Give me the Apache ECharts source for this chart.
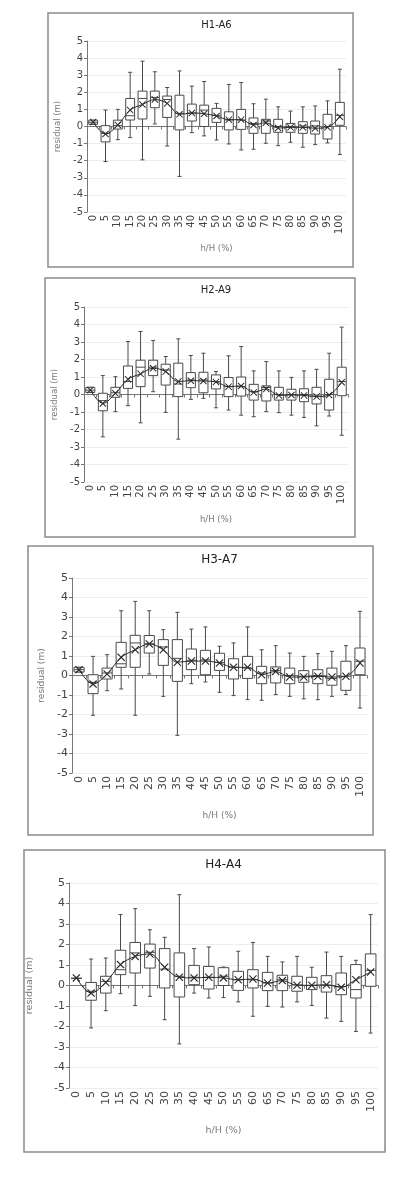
<!DOCTYPE html>
<html>
<head>
<meta charset="utf-8">
<script src="https://cdn.jsdelivr.net/npm/echarts@6/dist/echarts.min.js"></script>
<style>
html,body{margin:0;padding:0;background:#fff;}
#chart{width:396px;height:1178px;}
</style>
</head>
<body>
<div id="chart"></div>
<script>
// ---- data ----
const categories = ['0','5','10','15','20','25','30','35','40','45','50','55','60','65','70','75','80','85','90','95','100'];
const titles = ['H1-A6','H2-A9','H3-A7','H4-A4'];
const yTicks = [-5,-4,-3,-2,-1,0,1,2,3,4,5];

// [min, Q1, median, Q3, max]
const h1Box = [
  [0.13,0.13,0.25,0.37,0.37],[-2.05,-0.9,-0.4,0.05,0.96],[-0.77,-0.15,0.05,0.37,1.0],[-0.65,0.38,0.63,1.64,3.17],
  [-1.95,0.44,1.64,2.07,3.82],[0.15,1.1,1.7,2.07,3.2],[-1.14,0.53,1.58,1.78,2.28],[-2.92,-0.2,0.77,1.83,3.25],
  [-0.36,0.32,0.79,1.31,2.36],[-0.55,0.0,0.96,1.25,2.63],[-0.79,0.24,0.65,1.06,1.35],[-1.02,-0.2,0.38,0.86,2.46],
  [-1.37,-0.17,0.38,1.0,2.57],[-1.33,-0.4,0.18,0.5,1.33],[-0.98,-0.4,0.32,0.42,1.6],[-1.12,-0.34,0.0,0.42,1.15],
  [-0.92,-0.34,0.0,0.18,0.9],[-1.21,-0.4,0.03,0.28,1.15],[-1.06,-0.44,0.03,0.32,1.2],[-0.96,-0.73,0.0,0.71,1.5],
  [-1.64,0.07,0.65,1.41,3.35]
];
const h1Mean = [0.26,-0.44,0.09,0.96,1.29,1.58,1.35,0.71,0.79,0.75,0.61,0.4,0.4,0.09,0.22,-0.09,-0.05,-0.05,-0.1,-0.05,0.57];

const h2Box = [
  [0.12,0.12,0.25,0.41,0.41],[-2.42,-0.93,-0.35,0.07,1.08],[-0.98,-0.16,0.1,0.41,1.02],[-0.64,0.35,0.74,1.63,3.03],
  [-1.62,0.45,1.56,1.96,3.6],[0.16,1.08,1.56,1.96,3.09],[-1.02,0.54,1.4,1.73,2.17],[-2.55,-0.12,0.6,1.79,3.18],
  [-0.28,0.39,0.83,1.25,2.23],[-0.22,0.1,0.83,1.27,2.36],[-0.76,0.32,0.74,1.12,1.31],[-0.89,-0.12,0.45,0.97,2.21],
  [-1.18,-0.09,0.45,1.0,2.74],[-1.27,-0.32,0.16,0.58,1.35],[-0.98,-0.37,0.4,0.49,1.88],[-1.04,-0.32,0.0,0.41,1.35],
  [-1.18,-0.32,0.0,0.3,0.98],[-1.31,-0.41,0.0,0.33,1.35],[-1.79,-0.54,-0.03,0.41,1.44],[-1.23,-0.89,0.0,0.87,2.36],
  [-2.33,-0.07,0.74,1.56,3.85]
];
const h2Mean = [0.26,-0.51,0.07,0.87,1.18,1.5,1.31,0.74,0.79,0.77,0.72,0.45,0.49,0.12,0.32,-0.05,-0.03,-0.05,-0.12,-0.03,0.7];

const h3Box = [
  [0.18,0.18,0.3,0.42,0.42],[-2.04,-0.93,-0.35,0.04,0.98],[-0.78,-0.18,0.13,0.38,1.07],[-0.69,0.42,0.6,1.7,3.32],
  [-2.04,0.42,1.67,2.06,3.8],[0.08,1.15,1.63,2.05,3.32],[-1.07,0.52,1.46,1.84,2.35],[-3.07,-0.3,0.88,1.84,3.24],
  [-0.42,0.3,0.78,1.36,2.38],[-0.33,0.04,0.8,1.29,2.49],[-0.86,0.26,0.67,1.14,1.5],[-1.03,-0.18,0.42,0.86,1.67],
  [-1.24,-0.15,0.38,0.98,2.49],[-1.27,-0.42,0.13,0.47,1.32],[-0.98,-0.38,0.26,0.44,1.53],[-1.07,-0.42,0.0,0.38,1.15],
  [-1.2,-0.35,-0.04,0.25,0.98],[-1.24,-0.42,0.0,0.3,1.12],[-1.07,-0.5,-0.15,0.38,1.24],[-0.98,-0.76,-0.04,0.73,1.53],
  [-1.67,0.04,0.73,1.41,3.29]
];
const h3Mean = [0.3,-0.44,0.08,0.93,1.32,1.62,1.32,0.68,0.74,0.74,0.64,0.42,0.42,0.04,0.21,-0.08,-0.08,-0.04,-0.08,-0.04,0.64];

const h4Box = [
  [0.35,0.35,0.35,0.35,0.35],[-2.07,-0.72,-0.28,0.15,1.29],[-1.23,-0.37,0.2,0.45,1.34],[-0.4,0.53,0.77,1.72,3.46],
  [-0.98,0.61,1.59,2.1,3.75],[-0.53,0.85,1.62,2.02,2.72],[-1.67,-0.12,0.8,1.8,2.35],[-2.85,-0.56,0.45,1.59,4.43],
  [-0.37,0.04,0.4,0.98,1.8],[-0.61,-0.17,0.4,0.93,1.88],[-0.59,0.0,0.45,0.87,0.9],[-0.8,-0.24,0.28,0.69,1.67],
  [-1.5,-0.12,0.28,0.77,2.1],[-1.02,-0.25,0.12,0.64,1.42],[-1.05,-0.25,0.28,0.5,1.15],[-0.8,-0.28,0.03,0.45,1.42],
  [-0.97,-0.2,0.0,0.4,0.89],[-1.59,-0.32,0.0,0.48,1.63],[-1.75,-0.45,-0.05,0.61,1.42],[-2.24,-0.61,-0.2,1.02,1.23],
  [-2.32,-0.04,0.74,1.54,3.46]
];
const h4Mean = [0.37,-0.37,0.15,1.02,1.42,1.54,0.89,0.4,0.37,0.4,0.37,0.28,0.32,0.12,0.24,0.01,0.01,0.04,-0.09,0.28,0.66];

const boxSets = [h1Box, h2Box, h3Box, h4Box];
const meanSets = [h1Mean, h2Mean, h3Mean, h4Mean];

// ---- layout ----
const panels = [
  {frame:[48,13,353,267],  grid:{left:87,  top:41,  width:259, height:171}, titleY:25,  yGap:20, xGap:32, font:10, titleSize:10, nameSize:8.5},
  {frame:[45,278,355,537], grid:{left:84,  top:307, width:264, height:175}, titleY:290, yGap:23, xGap:33, font:10, titleSize:10, nameSize:8.5},
  {frame:[28,546,373,835], grid:{left:72,  top:578, width:295, height:195}, titleY:560, yGap:25, xGap:38, font:11, titleSize:12, nameSize:9},
  {frame:[24,850,385,1152],grid:{left:69,  top:883, width:309, height:205}, titleY:865, yGap:34, xGap:38, font:11, titleSize:12, nameSize:9.5}
];

const FONT = 'DejaVu Sans';
const boxStroke = '#4a4a4a';

function renderBox(params, api) {
  const x = api.value(0);
  const pMin = api.coord([x, api.value(1)]);
  const pQ1 = api.coord([x, api.value(2)]);
  const pMed = api.coord([x, api.value(3)]);
  const pQ3 = api.coord([x, api.value(4)]);
  const pMax = api.coord([x, api.value(5)]);
  const band = api.size([1, 0])[0];
  const hw = band * 0.36;
  const cw = 2;
  const cx = pMin[0];
  const st = {stroke: boxStroke, lineWidth: 1, fill: null};
  return {
    type: 'group',
    children: [
      {type:'line', shape:{x1:cx, y1:pMax[1], x2:cx, y2:pQ3[1]}, style:st},
      {type:'line', shape:{x1:cx-cw, y1:pMax[1], x2:cx+cw, y2:pMax[1]}, style:st},
      {type:'line', shape:{x1:cx, y1:pQ1[1], x2:cx, y2:pMin[1]}, style:st},
      {type:'line', shape:{x1:cx-cw, y1:pMin[1], x2:cx+cw, y2:pMin[1]}, style:st},
      {type:'rect', shape:{x:cx-hw, y:pQ3[1], width:2*hw, height:Math.max(pQ1[1]-pQ3[1],0)}, style:{stroke:boxStroke, lineWidth:1, fill:'#fff'}},
      {type:'line', shape:{x1:cx-hw, y1:pMed[1], x2:cx+hw, y2:pMed[1]}, style:st}
    ]
  };
}

const xSymbol = 'path://M0,1 L1,0 L5,4 L9,0 L10,1 L6,5 L10,9 L9,10 L5,6 L1,10 L0,9 L4,5 Z';

const grids = [], xAxes = [], yAxes = [], series = [], graphics = [];
panels.forEach((p, i) => {
  grids.push(Object.assign({containLabel:false}, p.grid));
  xAxes.push({
    type:'category', gridIndex:i, data:categories, boundaryGap:true,
    name:'h/H (%)', nameLocation:'middle', nameGap:p.xGap,
    nameTextStyle:{color:'#7a7a7a', fontSize:p.nameSize, fontFamily:FONT},
    axisLine:{show:true, lineStyle:{color:'#777', width:1}},
    axisTick:{show:true, length:3, lineStyle:{color:'#777'}},
    axisLabel:{interval:0, rotate:90, margin:3, color:'#444', fontSize:p.font, fontFamily:FONT},
    splitLine:{show:false}
  });
  yAxes.push({
    type:'value', gridIndex:i, min:-5, max:5, interval:1,
    name:'residual (m)', nameLocation:'middle', nameGap:p.yGap,
    nameTextStyle:{color:'#7a7a7a', fontSize:p.nameSize, fontFamily:FONT},
    axisLine:{show:true, lineStyle:{color:'#777', width:1}},
    axisTick:{show:true, length:3, lineStyle:{color:'#777'}},
    axisLabel:{margin:4, color:'#444', fontSize:p.font, fontFamily:FONT,
      formatter: v => (yTicks.indexOf(v) >= 0 ? String(v) : '')},
    splitLine:{show:true, lineStyle:{color:'#ededed', width:1}}
  });
  series.push({
    type:'custom', xAxisIndex:i, yAxisIndex:i, renderItem:renderBox,
    encode:{x:0, y:[1,2,3,4,5]},
    data: boxSets[i].map((b, k) => [k].concat(b)),
    z:2, silent:true
  });
  series.push({
    type:'line', xAxisIndex:i, yAxisIndex:i, data:meanSets[i], smooth:0.35,
    symbol:xSymbol, symbolSize: i < 2 ? 7 : 8,
    lineStyle:{color:'#2a2a2a', width:1},
    itemStyle:{color:'#2a2a2a'},
    z:3, silent:true, animation:false
  });
  const f = p.frame;
  graphics.push({
    type:'rect', shape:{x:f[0], y:f[1], width:f[2]-f[0], height:f[3]-f[1]},
    style:{fill:null, stroke:'#8a8a8a', lineWidth:1.5}, z:-1, silent:true
  });
  graphics.push({
    type:'text', x:(p.grid.left + p.grid.width/2), y:p.titleY,
    style:{text:titles[i], textAlign:'center', textVerticalAlign:'middle', fill:'#222', fontSize:p.titleSize, fontFamily:FONT},
    silent:true
  });
});

const chart = echarts.init(document.getElementById('chart'), null, {renderer:'canvas'});
chart.setOption({
  animation:false,
  backgroundColor:'#fff',
  grid:grids, xAxis:xAxes, yAxis:yAxes, series:series, graphic:graphics
});
</script>
</body>
</html>
